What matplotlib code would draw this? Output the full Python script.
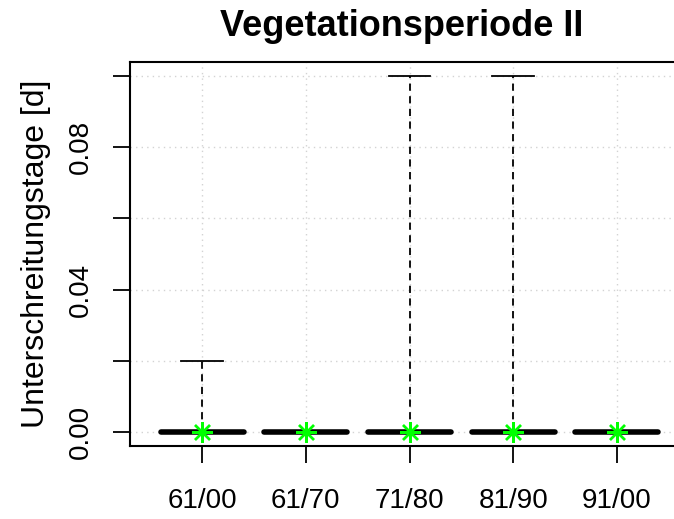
import matplotlib
matplotlib.use("Agg")
import matplotlib.pyplot as plt

plt.rcParams['font.family'] = ['Liberation Sans', 'DejaVu Sans']

# summary values per period (all data at zero, a few outlying maxima)
labels = ["61/00", "61/70", "71/80", "81/90", "91/00"]
medians = [0.0, 0.0, 0.0, 0.0, 0.0]
q1 = [0.0, 0.0, 0.0, 0.0, 0.0]
q3 = [0.0, 0.0, 0.0, 0.0, 0.0]
whis_lo = [0.0, 0.0, 0.0, 0.0, 0.0]
whis_hi = [0.02, 0.0, 0.10, 0.10, 0.0]
means = [0.0, 0.0, 0.0, 0.0, 0.0]

yticks = [0.0, 0.02, 0.04, 0.06, 0.08, 0.10]
ylabels = ["0.00", "", "0.04", "", "0.08", ""]

stats = []
for i in range(len(labels)):
    stats.append(dict(med=medians[i], q1=q1[i], q3=q3[i],
                      whislo=whis_lo[i], whishi=whis_hi[i],
                      mean=means[i], fliers=[], label=labels[i]))

fig = plt.figure(figsize=(6.74, 5.19), dpi=100)
# axes box runs past the right edge of the picture
ax = fig.add_axes([129.5 / 674, 1 - 446 / 519, (689.5 - 129.5) / 674, (446 - 62) / 519])

pos = list(range(1, len(labels) + 1))

for y in yticks:
    ax.axhline(y, color="lightgray", lw=1, ls=(0, (1, 3)), zorder=0)
for x in pos:
    ax.axvline(x, color="lightgray", lw=1, ls=(0, (1, 3)), zorder=0)

ax.bxp(stats, positions=pos, widths=0.8, showmeans=True, showfliers=False,
       boxprops=dict(color="black", lw=1),
       medianprops=dict(color="black", lw=4, solid_capstyle="round"),
       whiskerprops=dict(color="black", lw=1.3, ls=(0, (4, 3))),
       capprops=dict(color="black", lw=1.3),
       capwidths=0.4,
       meanprops=dict(marker=(8, 2, 0), markeredgecolor="#00ff00",
                      markerfacecolor="#00ff00", markersize=15, markeredgewidth=1.7))

ax.set_xlim(0.3, 5.7)
ax.set_ylim(-0.004, 0.104)

ax.set_yticks(yticks)
ax.set_yticklabels(ylabels, rotation=90, va="center", fontsize=20)
ax.set_xticks(pos)
ax.set_xticklabels(labels, fontsize=20)
ax.tick_params(axis="x", length=12, width=1.3, pad=18)
ax.tick_params(axis="y", length=12, width=1.3, pad=14)

for s in ax.spines.values():
    s.set_linewidth(1.5)

fig.text(36 / 674, 1 - 254 / 519, "Unterschreitungstage [d]", rotation=90,
         ha="center", va="center", fontsize=23)
fig.text(402 / 674, 1 - 36 / 519, "Vegetationsperiode II", ha="center", va="baseline",
         fontsize=26, fontweight="bold")

fig.savefig("out.png", dpi=100)
